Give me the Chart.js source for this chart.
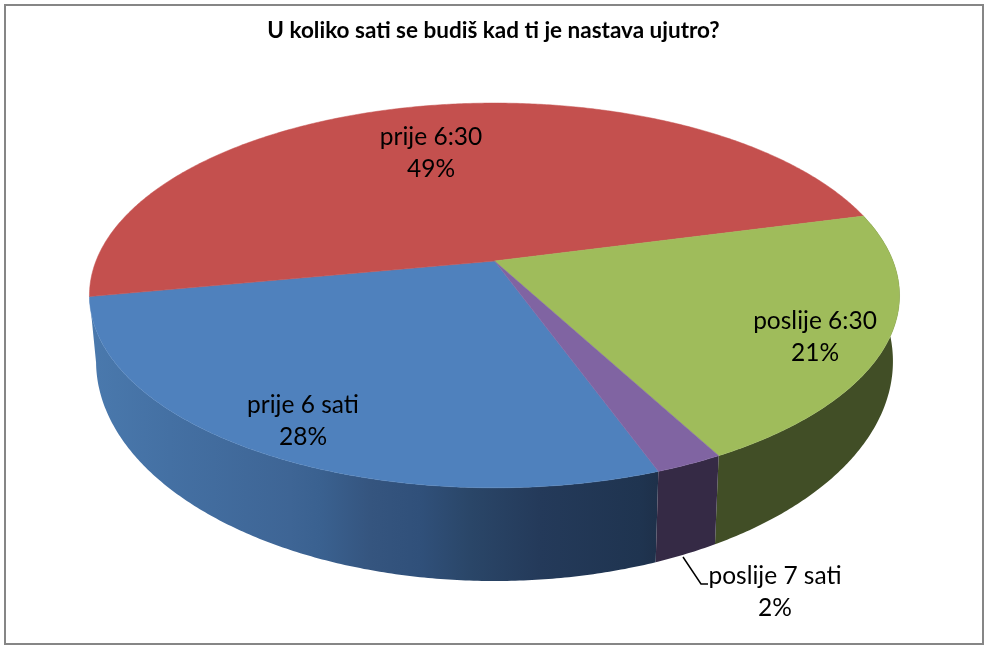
<!DOCTYPE html>
<html><head><meta charset="utf-8">
<style>html,body{margin:0;padding:0;background:#fff}#w{width:987px;height:648px;position:relative}</style>
<script src="https://cdn.jsdelivr.net/npm/chart.js@4"></script>
</head><body><div id="w"><canvas id="c" width="987" height="648"></canvas></div>
<script>
const titleText = 'U koliko sati se budiš kad ti je nastava ujutro?';
const categories = ['prije 6 sati', 'prije 6:30', 'poslije 6:30', 'poslije 7 sati'];
const values = [27.6, 48.9, 21.2, 2.3];
const sliceColors = ['#4F81BD', '#C4504E', '#9FBC5B', '#8064A2'];
const labelCenters = [[303,405],[431,137],[815,321],[775,576]];
// wall shading: [x, colour] stops across the page; null = wall hidden behind the top face
const wallStops = [
  [[90,'#4a79ad'],[170,'#4470a3'],[290,'#3e6595'],[320,'#3a6190'],[370,'#35557f'],[420,'#30507a'],[470,'#2a4668'],[540,'#243a5a'],[640,'#1f3450'],[660,'#1e3049']],
  null,
  [[650,'#414e26'],[900,'#414e26']],
  [[650,'#352a45'],[720,'#352a45']]
];
const P = {cx:494.5, k:398.5, c:-0.179, a:139.5, b:261, k2:392, a2:155, b2:322};
const top3d = (t)=>{const u=Math.cos(t),v=Math.sin(t),d=1+P.c*v;return [P.cx+P.k*u/d,(P.a*v+P.b)/d];};
const bot3d = (t)=>{const u=Math.cos(t),v=Math.sin(t),d=1+P.c*v;return [P.cx+P.k2*u/d,(P.a2*v+P.b2)/d];};
const pie3d = {
  id:'pie3d',
  beforeDraw(chart){
    const ctx=chart.ctx; ctx.save();
    ctx.strokeStyle='#868686'; ctx.lineWidth=2; ctx.strokeRect(5,5,978,639);
    ctx.restore();
  },
  beforeDatasetsDraw(chart){
    const ctx=chart.ctx, arcs=chart.getDatasetMeta(0).data, step=Math.PI/360;
    ctx.save();
    // walls: one polygon per slice, shaded across x
    arcs.forEach((el,i)=>{
      const s=wallStops[i]; if(!s) return;
      const x0=s[0][0],x1=s[s.length-1][0],g=ctx.createLinearGradient(x0,0,x1,0);
      s.forEach(p=>g.addColorStop((p[0]-x0)/(x1-x0),p[1]));
      const ts=[];for(let t=el.startAngle;t<el.endAngle;t+=step) ts.push(t);ts.push(el.endAngle);
      ctx.fillStyle=g;ctx.beginPath();
      ts.forEach((t,n)=>{const a=top3d(t);n?ctx.lineTo(a[0],a[1]):ctx.moveTo(a[0],a[1]);});
      ts.slice().reverse().forEach(t=>{const a=bot3d(t);ctx.lineTo(a[0],a[1]);});
      ctx.closePath();ctx.fill();
    });
    // top faces
    arcs.forEach((el)=>{
      ctx.fillStyle=el.options.backgroundColor; ctx.strokeStyle=el.options.backgroundColor; ctx.lineWidth=0.5;
      ctx.beginPath();ctx.moveTo(P.cx,P.b);
      for(let t=el.startAngle;t<el.endAngle;t+=step){const a=top3d(t);ctx.lineTo(a[0],a[1]);}
      const z=top3d(el.endAngle);ctx.lineTo(z[0],z[1]);ctx.closePath();ctx.fill();ctx.stroke();
    });
    // leader line
    ctx.strokeStyle='#000';ctx.lineWidth=1.5;ctx.beginPath();ctx.moveTo(683,557);ctx.lineTo(701,584);ctx.lineTo(708,584);ctx.stroke();
    // labels
    ctx.fillStyle='#000';ctx.font='24.5px Lato';ctx.textAlign='center';ctx.textBaseline='middle';
    const total=values.reduce((p,q)=>p+q,0);
    categories.forEach((n,i)=>{
      const [x,y]=labelCenters[i];
      ctx.fillText(n,x,y);
      ctx.fillText(Math.round(values[i]/total*100)+'%',x,y+32);
    });
    ctx.restore();
    return false;
  }
};
new Chart(document.getElementById('c'),{
  type:'pie',
  data:{labels:categories,datasets:[{data:values,backgroundColor:sliceColors,borderWidth:0}]},
  options:{
    responsive:false,animation:false,rotation:160,
    plugins:{
      legend:{display:false},tooltip:{enabled:false},
      title:{display:true,text:titleText,color:'#000',font:{family:'Lato',size:22.5,weight:'bold'},padding:{top:17,bottom:10}}
    }
  },
  plugins:[pie3d]
});
</script></body></html>
